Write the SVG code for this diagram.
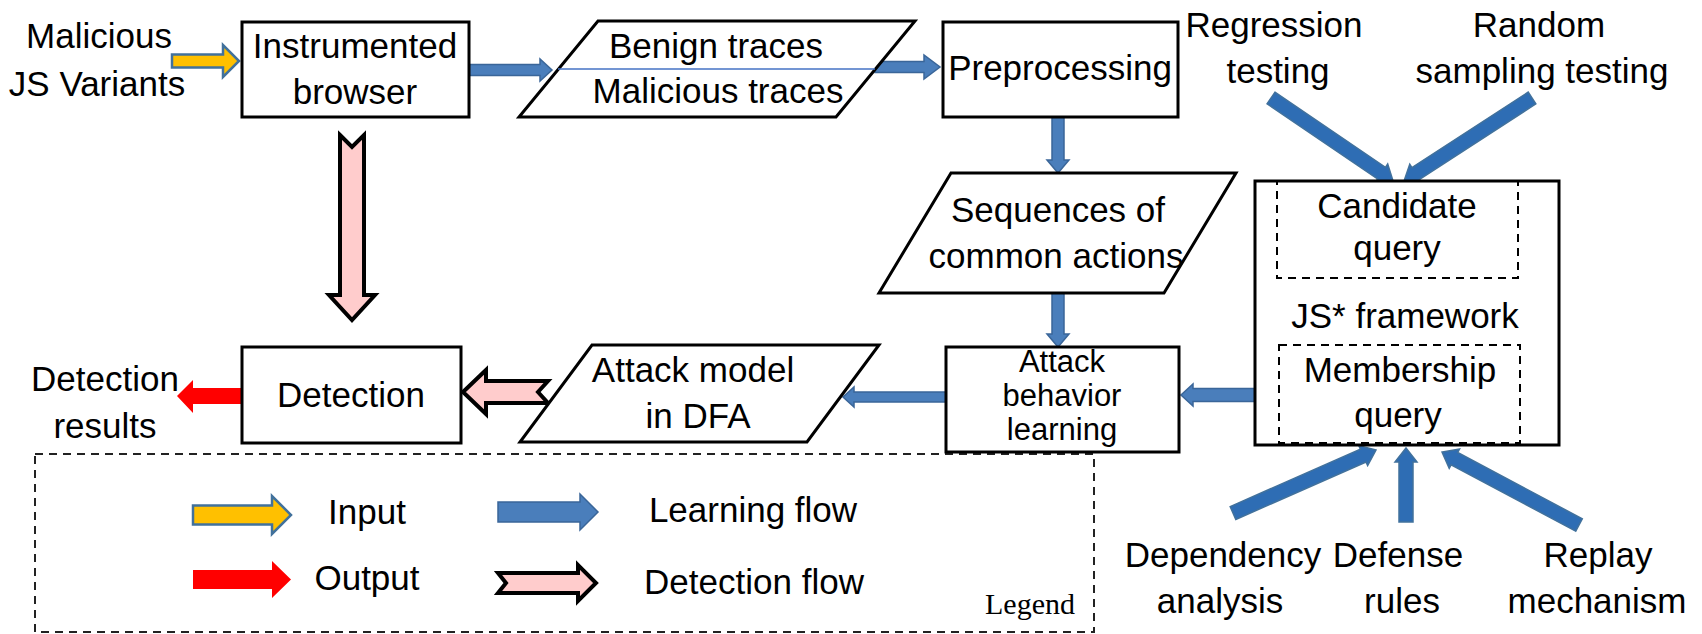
<svg xmlns="http://www.w3.org/2000/svg" width="1702" height="634" viewBox="0 0 1702 634">
<style>
text{font-family:"Liberation Sans",Arial,sans-serif;font-size:35px;fill:#000;text-anchor:middle}
.serif{font-family:"Liberation Serif","Times New Roman",serif;font-size:30px}
.small{font-size:31px}
.box{fill:#fff;stroke:#000;stroke-width:3;stroke-linejoin:miter}
.dash{fill:none;stroke:#000;stroke-width:2;stroke-dasharray:8 6}
.legend{fill:none;stroke:#222;stroke-width:2;stroke-dasharray:8 6}
.blue{fill:#4A7EBB;stroke:#3A6699;stroke-width:1.5}
.bluedark{fill:#2E6DB4;stroke:#41719C;stroke-width:1.5}
.yellow{fill:#FFC000;stroke:#41719C;stroke-width:2.5}
.red{fill:#FF0000;stroke:none}
.pink{fill:#FFCCCC;stroke:#000;stroke-width:4;stroke-linejoin:miter}
.thin{stroke:#4472C4;stroke-width:1.5}
</style>
<rect width="1702" height="634" fill="#fff"/>

<g id="legend">
<rect class="legend" x="35" y="454" width="1059" height="178"/>
<polygon class="yellow" points="193,505.5 272,505.5 272,496 291,515 272,534 272,524.5 193,524.5"/>
<text x="367" y="524">Input</text>
<polygon class="red" points="193,570 272,570 272,561 291,579.5 272,598 272,589 193,589"/>
<text x="367" y="590">Output</text>
<polygon class="blue" points="498,502 580,502 580,494 598,512 580,530 580,522 498,522"/>
<text x="753" y="522">Learning flow</text>
<polygon class="pink" points="498,573 578,573 578,565 596,583 578,601 578,593 498,593 506,583"/>
<text x="754" y="594">Detection flow</text>
<text class="serif" x="1030" y="614">Legend</text>
</g>

<g id="connectors">
<polygon class="yellow" points="172,54.5 223,54.5 223,45 239,61 223,77 223,67.5 172,67.5"/>
<polygon class="blue" points="469,64.5 540,64.5 540,59 552,70 540,81 540,75.5 469,75.5"/>
<polygon class="blue" points="875,61.5 924,61.5 924,55 940,67 924,79 924,72.5 875,72.5"/>
<polygon class="blue" points="1052,117 1064,117 1064,160 1069,160 1058,173 1047,160 1052,160"/>
<polygon class="blue" points="1052,293 1064,293 1064,334 1069,334 1058,347 1047,334 1052,334"/>
<polygon class="blue" points="1255,388.5 1193,388.5 1193,384 1181,395 1193,406 1193,401.5 1255,401.5"/>
<polygon class="blue" points="946,392 854,392 854,387 843,397 854,407 854,402 946,402"/>
<polygon class="pink" points="340,135 352,147 364,135 364,295 375,295 352,320 329,295 340,295"/>
<polygon class="pink" points="463,392 486,370 486,381 548,381 538,392 548,403 486,403 486,414"/>
<polygon class="red" points="242,388 193,388 193,380 177,396 193,413 193,404 242,404"/>
<polygon class="bluedark" transform="translate(1271,98) rotate(34.2)" points="0,-7 133.6,-7 133.6,-11 147.6,0 133.6,11 133.6,7 0,7"/>
<polygon class="bluedark" transform="translate(1532,98) rotate(147)" points="0,-7 138.6,-7 138.6,-11 152.6,0 138.6,11 138.6,7 0,7"/>
<polygon class="bluedark" transform="translate(1233,513) rotate(-23.8)" points="0,-7 142.3,-7 142.3,-11 156.3,0 142.3,11 142.3,7 0,7"/>
<polygon class="bluedark" transform="translate(1406,522) rotate(-90)" points="0,-7 60,-7 60,-11 74,0 60,11 60,7 0,7"/>
<polygon class="bluedark" transform="translate(1579,525) rotate(-151.95)" points="0,-7 141.2,-7 141.2,-11 155.2,0 141.2,11 141.2,7 0,7"/>
</g>

<g id="malicious-variants">
<text x="99" y="48">Malicious</text>
<text x="97" y="96">JS Variants</text>
</g>

<g id="instrumented-browser">
<rect class="box" x="242" y="22" width="227" height="95"/>
<text x="355" y="58">Instrumented</text>
<text x="355" y="104">browser</text>
</g>

<g id="traces">
<polygon class="box" points="598,21 915,21 836,117 519,117"/>
<line class="thin" x1="558" y1="69" x2="875" y2="69"/>
<text x="716" y="58">Benign traces</text>
<text x="718" y="103">Malicious traces</text>
</g>

<g id="preprocessing">
<rect class="box" x="943" y="22" width="235" height="95"/>
<text x="1060" y="80">Preprocessing</text>
</g>

<g id="regression-testing">
<text x="1274" y="37">Regression</text>
<text x="1278" y="83">testing</text>
</g>

<g id="random-sampling">
<text x="1539" y="37">Random</text>
<text x="1542" y="83">sampling testing</text>
</g>

<g id="sequences">
<polygon class="box" points="951,173 1236,173 1164,293 879,293"/>
<text x="1058" y="222">Sequences of</text>
<text x="1056" y="268">common actions</text>
</g>

<g id="js-framework">
<rect class="box" x="1255" y="181" width="304" height="264"/>
<rect class="dash" x="1277" y="181" width="241" height="97"/>
<rect class="dash" x="1279" y="345" width="241" height="98"/>
<text x="1397" y="218">Candidate</text>
<text x="1397" y="260">query</text>
<text x="1405" y="328">JS* framework</text>
<text x="1400" y="382">Membership</text>
<text x="1398" y="427">query</text>
</g>

<g id="attack-behavior-learning">
<rect class="box" x="946" y="347" width="233" height="105"/>
<text class="small" x="1062" y="372">Attack</text>
<text class="small" x="1062" y="406">behavior</text>
<text class="small" x="1062" y="440">learning</text>
</g>

<g id="attack-model">
<polygon class="box" points="592,345 879,345 807,442 520,442"/>
<text x="693" y="382">Attack model</text>
<text x="698" y="428">in DFA</text>
</g>

<g id="detection">
<rect class="box" x="242" y="347" width="219" height="96"/>
<text x="351" y="407">Detection</text>
</g>

<g id="detection-results">
<text x="105" y="391">Detection</text>
<text x="105" y="438">results</text>
</g>

<g id="dependency-analysis">
<text x="1223" y="567">Dependency</text>
<text x="1220" y="613">analysis</text>
</g>

<g id="defense-rules">
<text x="1398" y="567">Defense</text>
<text x="1402" y="613">rules</text>
</g>

<g id="replay-mechanism">
<text x="1598" y="567">Replay</text>
<text x="1597" y="613">mechanism</text>
</g>
</svg>
